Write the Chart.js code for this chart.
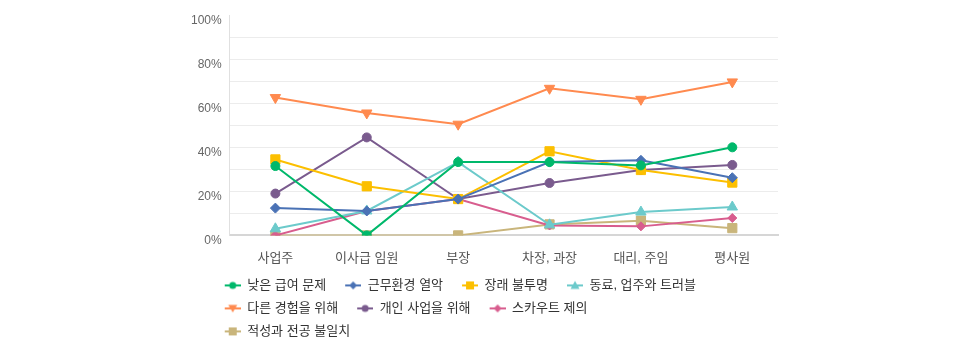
<!DOCTYPE html>
<html>
<head>
<meta charset="utf-8">
<script src="https://cdn.jsdelivr.net/npm/chart.js@4"></script>
<style>
  html, body { margin: 0; padding: 0; background: #fff; }
  #wrap { width: 974px; height: 361px; position: relative; }
</style>
</head>
<body>
<div id="wrap"><canvas id="turnover"></canvas></div>
<script>
const categories = ['사업주', '이사급 임원', '부장', '차장, 과장', '대리, 주임', '평사원'];

const lowPay      = [31.5, 0, 33.3, 33.3, 31.8, 40];
const badWork     = [12.4, 11.1, 16.5, 33.3, 34.1, 26.2];
const uncertain   = [34.5, 22.3, 16.5, 38.2, 29.7, 24];
const trouble     = [3, 11.1, 33.3, 4.8, 10.6, 12.9];
const experience  = [62.6, 55.6, 50.5, 66.8, 61.8, 69.7];
const ownBusiness = [19, 44.5, 16.5, 23.8, 29.7, 32];
const scouted     = [0, 11.1, 16.5, 4.5, 4.1, 7.9];
const mismatch    = [0, 0, 0, 5, 6.7, 3.3];

const yTicks = [0, 20, 40, 60, 80, 100];

const series = [
  { label: '낮은 급여 문제', data: lowPay, color: '#00b86b', style: 'circle', rot: 0, r: 4.5 },
  { label: '근무환경 열악', data: badWork, color: '#4a72b5', style: 'rectRot', rot: 0, r: 5 },
  { label: '장래 불투명', data: uncertain, color: '#fcbf00', style: 'rect', rot: 0, r: 6.5 },
  { label: '동료, 업주와 트러블', data: trouble, color: '#6ccacb', style: 'triangle', rot: 0, r: 6 },
  { label: '다른 경험을 위해', data: experience, color: '#ff8a4f', style: 'triangle', rot: 180, r: 6 },
  { label: '개인 사업을 위해', data: ownBusiness, color: '#7a5b8e', style: 'circle', rot: 0, r: 4.5 },
  { label: '스카우트 제의', data: scouted, color: '#d85d8e', style: 'rectRot', rot: 0, r: 4.5 },
  { label: '적성과 전공 불일치', data: mismatch, color: '#c9b57b', style: 'rect', rot: 0, r: 6.5 }
];

// line + marker icon for legend entries (left part left blank as item spacing)
const ICON_GAP = 9;
function legendIcon(s) {
  const c = document.createElement('canvas');
  c.width = 16 + ICON_GAP; c.height = 12;
  const g = c.getContext('2d');
  g.translate(ICON_GAP, 0);
  g.strokeStyle = s.color; g.fillStyle = s.color; g.lineWidth = 2;
  g.beginPath(); g.moveTo(0, 6); g.lineTo(16, 6); g.stroke();
  g.beginPath();
  if (s.style === 'circle') {
    g.arc(8, 6, 3.5, 0, Math.PI * 2);
  } else if (s.style === 'rect') {
    g.rect(4, 2, 8, 8);
  } else if (s.style === 'rectRot') {
    g.moveTo(8, 2); g.lineTo(12, 6); g.lineTo(8, 10); g.lineTo(4, 6);
  } else if (s.rot === 180) {
    g.moveTo(3.5, 2.5); g.lineTo(12.5, 2.5); g.lineTo(8, 10);
  } else {
    g.moveTo(8, 1.5); g.lineTo(12.5, 9.5); g.lineTo(3.5, 9.5);
  }
  g.closePath(); g.fill();
  return c;
}

// legend rows wrap narrower than the full width
const LEGEND_W = 520;
const LegendEl = Chart.registry.getPlugin('legend')._element;
const fitRows = LegendEl.prototype._fitRows;
LegendEl.prototype._fitRows = function (...args) {
  const mw = this.maxWidth;
  this.maxWidth = Math.min(mw, LEGEND_W);
  const h = fitRows.apply(this, args);
  this.maxWidth = mw;
  return h;
};

// legend sits left-aligned under the y axis, just below the category labels
const legendPlace = {
  id: 'legendPlace',
  afterLayout(chart) {
    const lg = chart.legend;
    const dy = chart.chartArea.bottom + 33.5 - lg.top;
    lg.left = chart.chartArea.left - 10 - ICON_GAP - 5;
    lg.right = lg.left + LEGEND_W;
    lg.top += dy; lg.bottom += dy;
  }
};

const FONT = 'Arial, "Liberation Sans", "Noto Sans CJK KR", sans-serif';

new Chart(document.getElementById('turnover'), {
  type: 'line',
  plugins: [legendPlace],
  data: {
    labels: categories,
    datasets: series.map(s => ({
      label: s.label,
      data: s.data,
      borderColor: s.color,
      backgroundColor: s.color,
      borderWidth: 2,
      pointStyle: s.style,
      rotation: s.rot,
      pointRadius: s.r,
      pointHoverRadius: s.r,
      pointBorderWidth: 1,
      tension: 0
    }))
  },
  options: {
    responsive: true,
    maintainAspectRatio: false,
    animation: false,
    layout: { padding: { top: 10, left: 183, right: 196, bottom: 1 } },
    plugins: {
      tooltip: { enabled: false },
      legend: {
        position: 'bottom',
        align: 'start',
        labels: {
          usePointStyle: true,
          pointStyleWidth: 16 + ICON_GAP,
          padding: 10,
          color: '#333',
          font: { family: FONT, size: 13 },
          generateLabels: chart => series.map((s, i) => ({
            text: s.label,
            pointStyle: legendIcon(s),
            fillStyle: s.color,
            strokeStyle: s.color,
            lineWidth: 0,
            hidden: false,
            datasetIndex: i,
            fontColor: '#333'
          }))
        }
      }
    },
    scales: {
      x: {
        offset: true,
        grid: { display: false, drawTicks: false },
        border: { color: '#d6d6d6', width: 2 },
        ticks: { color: '#555', padding: 15, font: { family: FONT, size: 13 } }
      },
      y: {
        min: 0,
        max: 100,
        grid: {
          drawTicks: false,
          color: ctx => (ctx.tick && ctx.tick.value === 100) ? 'rgba(0,0,0,0)' : '#ececec'
        },
        border: { color: '#e0e0e0', width: 1 },
        ticks: {
          stepSize: 10,
          padding: 8,
          color: '#666',
          labelOffset: 5,
          font: { family: FONT, size: 12 },
          callback: v => yTicks.includes(v) ? v + '%' : ''
        }
      }
    }
  }
});
</script>
</body>
</html>
